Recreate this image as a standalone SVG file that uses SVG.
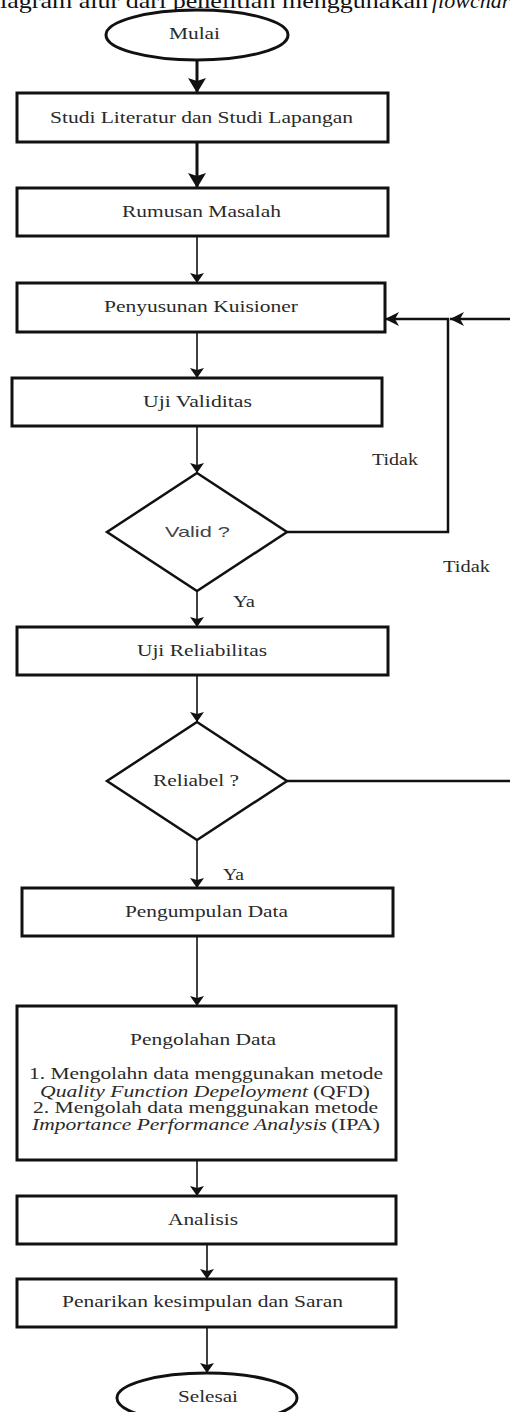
<svg xmlns="http://www.w3.org/2000/svg" width="510" height="1412" viewBox="0 0 510 1412">
<style>
.bx{fill:#fff;stroke:#111;stroke-width:3}
.dm{fill:#fff;stroke:#111;stroke-width:2.5}
.t{font-family:"Liberation Serif","Times New Roman",serif;font-size:16px;fill:#2a2a2a}
.ti{font-family:"Liberation Serif","Times New Roman",serif;font-size:16px;fill:#2a2a2a;font-style:italic}
.ts{font-family:"Liberation Sans",Arial,sans-serif;font-size:15px;fill:#444}
.cap{font-family:"Liberation Serif","Times New Roman",serif;font-size:22px;fill:#111}
.thick{fill:none;stroke:#111;stroke-width:3}
.thin{fill:none;stroke:#111;stroke-width:1.6}
.fb{fill:none;stroke:#111;stroke-width:2.5}
</style>
<defs>
<marker id="ah" markerUnits="userSpaceOnUse" markerWidth="20" markerHeight="20" refX="15" refY="9" orient="auto">
<path d="M0,0 L15,9 L0,18 L3,9 Z" fill="#111"/>
</marker>
<marker id="at" markerUnits="userSpaceOnUse" markerWidth="14" markerHeight="16" refX="10" refY="7" orient="auto">
<path d="M0,0 L10,7 L0,14 L2,7 Z" fill="#111"/>
</marker>
<marker id="af" markerUnits="userSpaceOnUse" markerWidth="18" markerHeight="16" refX="14" refY="7" orient="auto">
<path d="M0,0 L14,7 L0,14 L4,7 Z" fill="#111"/>
</marker>
</defs>

<g id="caption">
<text class="cap" x="0" y="8" textLength="428" lengthAdjust="spacingAndGlyphs">iagram alur dari penelitian menggunakan</text>
<text class="cap" x="432" y="8" font-style="italic">flowchart</text>
</g>

<g id="connectors">
<path class="thick" d="M197,60 V93" marker-end="url(#ah)"/>
<path class="thick" d="M197,142 V188" marker-end="url(#ah)"/>
<path class="thin" d="M197,236 V283" marker-end="url(#at)"/>
<path class="thin" d="M197,332 V378" marker-end="url(#at)"/>
<path class="thin" d="M197,426 V473" marker-end="url(#at)"/>
<path class="thin" d="M197,591 V627" marker-end="url(#at)"/>
<path class="thin" d="M197,675 V722" marker-end="url(#at)"/>
<path class="thin" d="M197,840 V888" marker-end="url(#at)"/>
<path class="thin" d="M197,936 V1006" marker-end="url(#at)"/>
<path class="thin" d="M197,1160 V1196" marker-end="url(#at)"/>
<path class="thin" d="M207,1244 V1279" marker-end="url(#at)"/>
<path class="thin" d="M207,1327 V1373" marker-end="url(#at)"/>
<path class="fb" d="M287,532 H448 V319 H385" marker-end="url(#af)"/>
<path class="fb" d="M510,319 H450" marker-end="url(#af)"/>
<path class="fb" d="M287,781 H510"/>
<text class="t" x="372" y="465" textLength="46" lengthAdjust="spacingAndGlyphs">Tidak</text>
<text class="t" x="443" y="572" textLength="47" lengthAdjust="spacingAndGlyphs">Tidak</text>
<text class="t" x="233" y="607" textLength="22" lengthAdjust="spacingAndGlyphs">Ya</text>
<text class="t" x="223" y="880" textLength="21" lengthAdjust="spacingAndGlyphs">Ya</text>
</g>

<g id="mulai">
<ellipse cx="197" cy="35" rx="91" ry="25" class="bx"/>
<text class="t" x="169" y="39" textLength="51" lengthAdjust="spacingAndGlyphs">Mulai</text>
</g>

<g id="studi">
<rect x="17" y="93" width="371" height="49" class="bx"/>
<text class="t" x="50" y="123" textLength="303" lengthAdjust="spacingAndGlyphs">Studi Literatur dan Studi Lapangan</text>
</g>

<g id="rumusan">
<rect x="17" y="188" width="371" height="48" class="bx"/>
<text class="t" x="122" y="217" textLength="159" lengthAdjust="spacingAndGlyphs">Rumusan Masalah</text>
</g>

<g id="penyusunan">
<rect x="17" y="283" width="368" height="49" class="bx"/>
<text class="t" x="104" y="312" textLength="194" lengthAdjust="spacingAndGlyphs">Penyusunan Kuisioner</text>
</g>

<g id="validitas">
<rect x="12" y="378" width="370" height="48" class="bx"/>
<text class="t" x="143" y="407" textLength="109" lengthAdjust="spacingAndGlyphs">Uji Validitas</text>
</g>

<g id="valid">
<polygon points="197,473 287,532 197,591 107,532" class="dm"/>
<text class="ts" x="165" y="537" textLength="65" lengthAdjust="spacingAndGlyphs">Valid ?</text>
</g>

<g id="reliabilitas">
<rect x="17" y="627" width="371" height="48" class="bx"/>
<text class="t" x="137" y="656" textLength="130" lengthAdjust="spacingAndGlyphs">Uji Reliabilitas</text>
</g>

<g id="reliabel">
<polygon points="197,722 287,781 197,840 107,781" class="dm"/>
<text class="t" x="153" y="786" textLength="86" lengthAdjust="spacingAndGlyphs">Reliabel ?</text>
</g>

<g id="pengumpulan">
<rect x="22" y="888" width="371" height="48" class="bx"/>
<text class="t" x="125" y="917" textLength="163" lengthAdjust="spacingAndGlyphs">Pengumpulan Data</text>
</g>

<g id="pengolahan">
<rect x="17" y="1006" width="379" height="154" class="bx"/>
<text class="t" x="130" y="1045" textLength="146" lengthAdjust="spacingAndGlyphs">Pengolahan Data</text>
<text class="t" x="29" y="1079" textLength="354" lengthAdjust="spacingAndGlyphs">1. Mengolahn data menggunakan metode</text>
<text class="ti" x="40" y="1097" textLength="268" lengthAdjust="spacingAndGlyphs">Quality Function Depeloyment</text>
<text class="t" x="313" y="1097" textLength="57" lengthAdjust="spacingAndGlyphs">(QFD)</text>
<text class="t" x="33" y="1113" textLength="345" lengthAdjust="spacingAndGlyphs">2. Mengolah data menggunakan metode</text>
<text class="ti" x="32" y="1130" textLength="295" lengthAdjust="spacingAndGlyphs">Importance Performance Analysis</text>
<text class="t" x="331" y="1130" textLength="49" lengthAdjust="spacingAndGlyphs">(IPA)</text>
</g>

<g id="analisis">
<rect x="17" y="1196" width="379" height="48" class="bx"/>
<text class="t" x="168" y="1225" textLength="70" lengthAdjust="spacingAndGlyphs">Analisis</text>
</g>

<g id="penarikan">
<rect x="17" y="1279" width="379" height="48" class="bx"/>
<text class="t" x="62" y="1307" textLength="281" lengthAdjust="spacingAndGlyphs">Penarikan kesimpulan dan Saran</text>
</g>

<g id="selesai">
<ellipse cx="207" cy="1398" rx="90" ry="25" class="bx"/>
<text class="t" x="178" y="1402" textLength="60" lengthAdjust="spacingAndGlyphs">Selesai</text>
</g>
</svg>
